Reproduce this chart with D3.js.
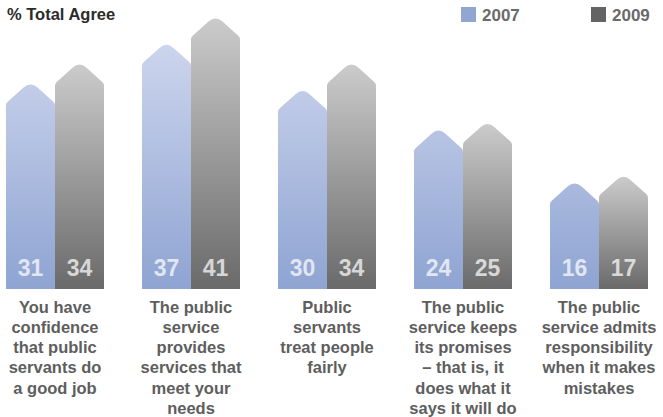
<!DOCTYPE html>
<html>
<head>
<meta charset="utf-8">
<script src="https://cdn.jsdelivr.net/npm/d3@7/dist/d3.min.js"></script>
<style>
  body { margin: 0; background: #fff; }
  svg { display: block; font-family: "Liberation Sans", Arial, Helvetica, sans-serif; }
</style>
</head>
<body>
<div id="chart"></div>
<script>
// data
var categories = ["confidence", "services", "fairly", "promises", "mistakes"];
var years = ["2007", "2009"];
var values2007 = [31, 37, 30, 24, 16];
var values2009 = [34, 41, 34, 25, 17];
var labelLines = [
    ["You have", "confidence", "that public", "servants do", "a good job"],
    ["The public", "service", "provides", "services that", "meet your", "needs"],
    ["Public", "servants", "treat people", "fairly"],
    ["The public", "service keeps", "its promises", "\u2013 that is, it", "does what it", "says it will do"],
    ["The public", "service admits", "responsibility", "when it makes", "mistakes"]
];
var title = "% Total Agree";

var width = 663, height = 417;
var baseY = 289;

var svg = d3.select("#chart").append("svg")
    .attr("width", width)
    .attr("height", height);

var defs = svg.append("defs");

// blue fades with height across the whole plot
var blueGrad = defs.append("linearGradient")
    .attr("id", "blueGrad")
    .attr("gradientUnits", "userSpaceOnUse")
    .attr("x1", 0).attr("y1", 18).attr("x2", 0).attr("y2", baseY);
blueGrad.append("stop").attr("offset", "0%").attr("stop-color", "#d3daf0");
blueGrad.append("stop").attr("offset", "100%").attr("stop-color", "#8fa4d2");

// grey fades per bar
var greyGrad = defs.append("linearGradient")
    .attr("id", "greyGrad")
    .attr("x1", 0).attr("y1", 0).attr("x2", 0).attr("y2", 1);
greyGrad.append("stop").attr("offset", "0%").attr("stop-color", "#cbcbcb");
greyGrad.append("stop").attr("offset", "100%").attr("stop-color", "#6a6a6a");

var x = d3.scaleBand()
    .domain(categories)
    .range([-13, 667]);

var xSub = d3.scaleBand()
    .domain(years)
    .range([0, 98]);

var y = d3.scaleLinear()
    .domain([0, 41])
    .range([baseY, 18.4]);

var rows = [];
for (let i = 0; i < categories.length; i++) {
    rows.push({cat: categories[i], year: "2007", value: values2007[i]});
    rows.push({cat: categories[i], year: "2009", value: values2009[i]});
}

// house shaped bar: pointed roof with rounded apex
function barPath(d) {
    var x0 = x(d.cat) + (x.bandwidth() - 98) / 2 + xSub(d.year);
    var w = xSub.bandwidth();
    var x1 = x0 + w;
    var xc = x0 + w / 2;
    var half = w / 2;
    var rise = 22;
    var s = rise / half;
    var r = 7;
    var yTip = y(d.value) - 0.5 * r * s;
    var yS = yTip + rise;
    var c = 2;
    return "M" + x0 + "," + baseY +
        " L" + x0 + "," + (yS + c) +
        " Q" + x0 + "," + yS + " " + (x0 + c) + "," + (yS - c * s) +
        " L" + (xc - r) + "," + (yTip + r * s) +
        " Q" + xc + "," + yTip + " " + (xc + r) + "," + (yTip + r * s) +
        " L" + (x1 - c) + "," + (yS - c * s) +
        " Q" + x1 + "," + yS + " " + x1 + "," + (yS + c) +
        " L" + x1 + "," + baseY + " Z";
}

svg.append("g").selectAll("path")
    .data(rows)
    .enter().append("path")
    .attr("d", barPath)
    .attr("fill", d => d.year == "2007" ? "url(#blueGrad)" : "url(#greyGrad)");

svg.append("g").selectAll("text")
    .data(rows)
    .enter().append("text")
    .attr("x", d => x(d.cat) + (x.bandwidth() - 98) / 2 + xSub(d.year) + xSub.bandwidth() / 2)
    .attr("y", baseY - 13)
    .attr("text-anchor", "middle")
    .style("font-size", "23px")
    .style("font-weight", 700)
    .style("fill", "#ffffff")
    .style("fill-opacity", 0.72)
    .text(d => d.value);

// category labels
for (let i = 0; i < categories.length; i++) {
    var t = svg.append("text")
        .attr("x", x(categories[i]) + x.bandwidth() / 2)
        .attr("y", 312.5)
        .attr("text-anchor", "middle")
        .style("font-size", "16.5px")
        .style("font-weight", 700)
        .style("fill", "#5e5e5e");
    labelLines[i].forEach(function(line, j) {
        t.append("tspan")
            .attr("x", x(categories[i]) + x.bandwidth() / 2)
            .attr("dy", j == 0 ? 0 : 20.3)
            .text(line);
    });
}

svg.append("text")
    .attr("x", 7)
    .attr("y", 19.5)
    .text(title)
    .style("font-size", "16.5px")
    .style("font-weight", 700)
    .style("fill", "#2b2b2b");

// legend
var legendX = [461, 591];
var legendColor = ["#91a7d1", "#646464"];
years.forEach(function(yr, i) {
    svg.append("rect")
        .attr("x", legendX[i])
        .attr("y", 7)
        .attr("width", 15)
        .attr("height", 15)
        .attr("fill", legendColor[i]);
    svg.append("text")
        .attr("x", legendX[i] + 21)
        .attr("y", 21)
        .text(yr)
        .style("font-size", "17px")
        .style("font-weight", 700)
        .style("fill", "#6a6a6a");
});
</script>
</body>
</html>
